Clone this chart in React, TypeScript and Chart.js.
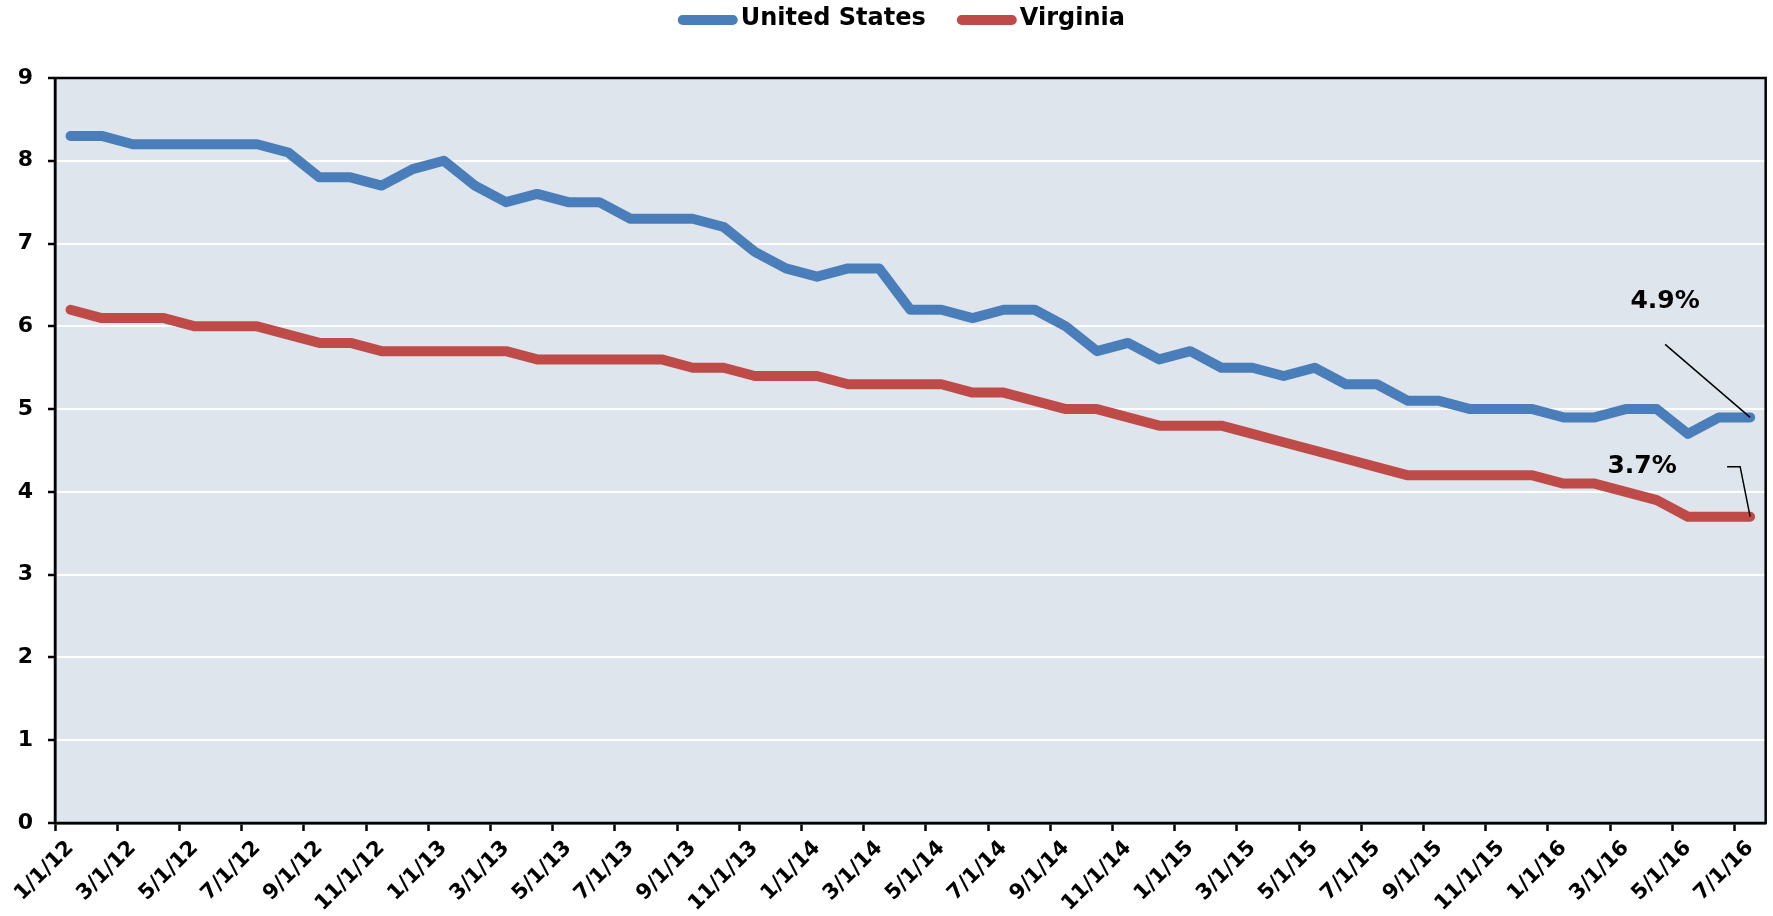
import React, { useEffect, useRef } from "react";
import { Chart, registerables } from "chart.js";

Chart.register(...registerables);

const CATEGORIES = [
  "1/1/12", "2/1/12", "3/1/12", "4/1/12", "5/1/12", "6/1/12", "7/1/12", "8/1/12", "9/1/12", "10/1/12", "11/1/12", "12/1/12",
  "1/1/13", "2/1/13", "3/1/13", "4/1/13", "5/1/13", "6/1/13", "7/1/13", "8/1/13", "9/1/13", "10/1/13", "11/1/13", "12/1/13",
  "1/1/14", "2/1/14", "3/1/14", "4/1/14", "5/1/14", "6/1/14", "7/1/14", "8/1/14", "9/1/14", "10/1/14", "11/1/14", "12/1/14",
  "1/1/15", "2/1/15", "3/1/15", "4/1/15", "5/1/15", "6/1/15", "7/1/15", "8/1/15", "9/1/15", "10/1/15", "11/1/15", "12/1/15",
  "1/1/16", "2/1/16", "3/1/16", "4/1/16", "5/1/16", "6/1/16", "7/1/16",
];

const US_VALUES = [
  8.3, 8.3, 8.2, 8.2, 8.2, 8.2, 8.2, 8.1, 7.8, 7.8, 7.7, 7.9,
  8.0, 7.7, 7.5, 7.6, 7.5, 7.5, 7.3, 7.3, 7.3, 7.2, 6.9, 6.7,
  6.6, 6.7, 6.7, 6.2, 6.2, 6.1, 6.2, 6.2, 6.0, 5.7, 5.8, 5.6,
  5.7, 5.5, 5.5, 5.4, 5.5, 5.3, 5.3, 5.1, 5.1, 5.0, 5.0, 5.0,
  4.9, 4.9, 5.0, 5.0, 4.7, 4.9, 4.9,
];

const VA_VALUES = [
  6.2, 6.1, 6.1, 6.1, 6.0, 6.0, 6.0, 5.9, 5.8, 5.8, 5.7, 5.7,
  5.7, 5.7, 5.7, 5.6, 5.6, 5.6, 5.6, 5.6, 5.5, 5.5, 5.4, 5.4,
  5.4, 5.3, 5.3, 5.3, 5.3, 5.2, 5.2, 5.1, 5.0, 5.0, 4.9, 4.8,
  4.8, 4.8, 4.7, 4.6, 4.5, 4.4, 4.3, 4.2, 4.2, 4.2, 4.2, 4.2,
  4.1, 4.1, 4.0, 3.9, 3.7, 3.7, 3.7,
];

const SERIES_NAMES = ["United States", "Virginia"];
const SERIES_COLORS = ["#4A7EBB", "#BE4B48"];
const END_LABELS = ["4.9%", "3.7%"];

const Y_MIN = 0;
const Y_MAX = 9;
const Y_STEP = 1;

const FONT = "'DejaVu Sans', 'Noto Sans', sans-serif";
const PLOT_BG = "#DEE5EC";

const plotBackground = {
  id: "plotBackground",
  beforeDraw(chart: any) {
    const { ctx, chartArea } = chart;
    ctx.save();
    ctx.fillStyle = PLOT_BG;
    ctx.fillRect(chartArea.left, chartArea.top, chartArea.right - chartArea.left, chartArea.bottom - chartArea.top);
    ctx.restore();
  },
};

const plotFrame = {
  id: "plotFrame",
  beforeDatasetsDraw(chart: any) {
    const { ctx, chartArea } = chart;
    ctx.save();
    ctx.strokeStyle = "#000";
    ctx.lineWidth = 2.5;
    ctx.strokeRect(chartArea.left, chartArea.top, chartArea.right - chartArea.left, chartArea.bottom - chartArea.top);
    ctx.restore();
  },
};

const customLegend = {
  id: "customLegend",
  afterDraw(chart: any) {
    const { ctx, chartArea } = chart;
    const datasets = chart.data.datasets;
    ctx.save();
    ctx.font = `bold 24px ${FONT}`;
    const lineLen = 60;
    const lineW = 10;
    const gapText = 3;
    const gapItem = 31;
    const widths = datasets.map((d: any) => ctx.measureText(d.label).width);
    let total = 0;
    widths.forEach((w: number, i: number) => {
      total += lineLen + gapText + w + (i < widths.length - 1 ? gapItem : 0);
    });
    const center = (chartArea.left + chartArea.right) / 2 - 9;
    let x = center - total / 2;
    const y = 20;
    datasets.forEach((d: any, i: number) => {
      ctx.strokeStyle = d.borderColor;
      ctx.lineWidth = lineW;
      ctx.lineCap = "round";
      ctx.beginPath();
      ctx.moveTo(x + lineW / 2, y);
      ctx.lineTo(x + lineLen - lineW / 2, y);
      ctx.stroke();
      x += lineLen + gapText;
      ctx.fillStyle = "#000";
      ctx.textBaseline = "middle";
      ctx.textAlign = "left";
      ctx.fillText(d.label, x, y - 1);
      x += widths[i] + gapItem;
    });
    ctx.restore();
  },
};

const endAnnotations = {
  id: "endAnnotations",
  afterDatasetsDraw(chart: any) {
    const { ctx } = chart;
    ctx.save();
    ctx.font = `bold 25px ${FONT}`;
    ctx.fillStyle = "#000";
    ctx.strokeStyle = "#000";
    ctx.lineWidth = 1.5;
    ctx.textAlign = "center";
    ctx.textBaseline = "middle";
    const usMeta = chart.getDatasetMeta(0);
    const usPt = usMeta.data[usMeta.data.length - 1];
    if (usPt) {
      ctx.fillText(END_LABELS[0], usPt.x - 85, usPt.y - 116);
      ctx.beginPath();
      ctx.moveTo(usPt.x - 85, usPt.y - 73);
      ctx.lineTo(usPt.x, usPt.y);
      ctx.stroke();
    }
    const vaMeta = chart.getDatasetMeta(1);
    const vaPt = vaMeta.data[vaMeta.data.length - 1];
    if (vaPt) {
      ctx.fillText(END_LABELS[1], vaPt.x - 108, vaPt.y - 50);
      ctx.beginPath();
      ctx.moveTo(vaPt.x - 23, vaPt.y - 50);
      ctx.lineTo(vaPt.x - 10, vaPt.y - 50);
      ctx.lineTo(vaPt.x, vaPt.y);
      ctx.stroke();
    }
    ctx.restore();
  },
};

export default function App() {
  const canvasRef = useRef<HTMLCanvasElement | null>(null);

  useEffect(() => {
    if (!canvasRef.current) return;
    const chart = new Chart(canvasRef.current, {
      type: "line",
      data: {
        labels: CATEGORIES,
        datasets: [
          {
            label: SERIES_NAMES[0],
            data: US_VALUES,
            borderColor: SERIES_COLORS[0],
            backgroundColor: SERIES_COLORS[0],
            borderWidth: 10,
            pointRadius: 0,
            pointHoverRadius: 0,
            borderCapStyle: "round",
            borderJoinStyle: "round",
            tension: 0,
            fill: false,
          },
          {
            label: SERIES_NAMES[1],
            data: VA_VALUES,
            borderColor: SERIES_COLORS[1],
            backgroundColor: SERIES_COLORS[1],
            borderWidth: 10,
            pointRadius: 0,
            pointHoverRadius: 0,
            borderCapStyle: "round",
            borderJoinStyle: "round",
            tension: 0,
            fill: false,
          },
        ],
      },
      options: {
        animation: false,
        responsive: true,
        maintainAspectRatio: false,
        layout: { padding: { top: 78, right: 5, left: 0, bottom: 0 } },
        plugins: {
          legend: { display: false },
          tooltip: { enabled: false },
          title: { display: false },
        },
        scales: {
          x: {
            type: "category",
            offset: true,
            afterFit(scale: any) {
              scale.height = 93;
            },
            grid: {
              offset: true,
              drawOnChartArea: false,
              drawTicks: true,
              tickLength: 8,
              tickWidth: 2.5,
              color: (c: any) => (c.index % 2 === 0 ? "#000" : "rgba(0,0,0,0)"),
            },
            border: { display: true, color: "#000", width: 2.5 },
            ticks: {
              autoSkip: false,
              minRotation: 45,
              maxRotation: 45,
              padding: 5,
              color: "#000",
              font: { family: FONT, weight: "bold", size: 21 },
              callback: (_v: any, i: number) => (i % 2 === 0 ? CATEGORIES[i] : ""),
            },
          },
          y: {
            min: Y_MIN,
            max: Y_MAX,
            afterFit(scale: any) {
              scale.width = 55;
            },
            grid: {
              color: "#FFFFFF",
              lineWidth: 2,
              tickColor: "#000",
              tickLength: 7,
              tickWidth: 2.5,
              drawTicks: true,
            },
            border: { display: true, color: "#000", width: 2.5 },
            ticks: {
              stepSize: Y_STEP,
              padding: 15,
              color: "#000",
              font: { family: FONT, weight: "bold", size: 22 },
            },
          },
        },
      },
      plugins: [plotBackground, plotFrame, customLegend, endAnnotations],
    });
    return () => chart.destroy();
  }, []);

  return (
    <div style={{ position: "fixed", left: 0, top: 0, width: "100vw", height: "100vh", background: "#fff" }}>
      <canvas ref={canvasRef} />
    </div>
  );
}
